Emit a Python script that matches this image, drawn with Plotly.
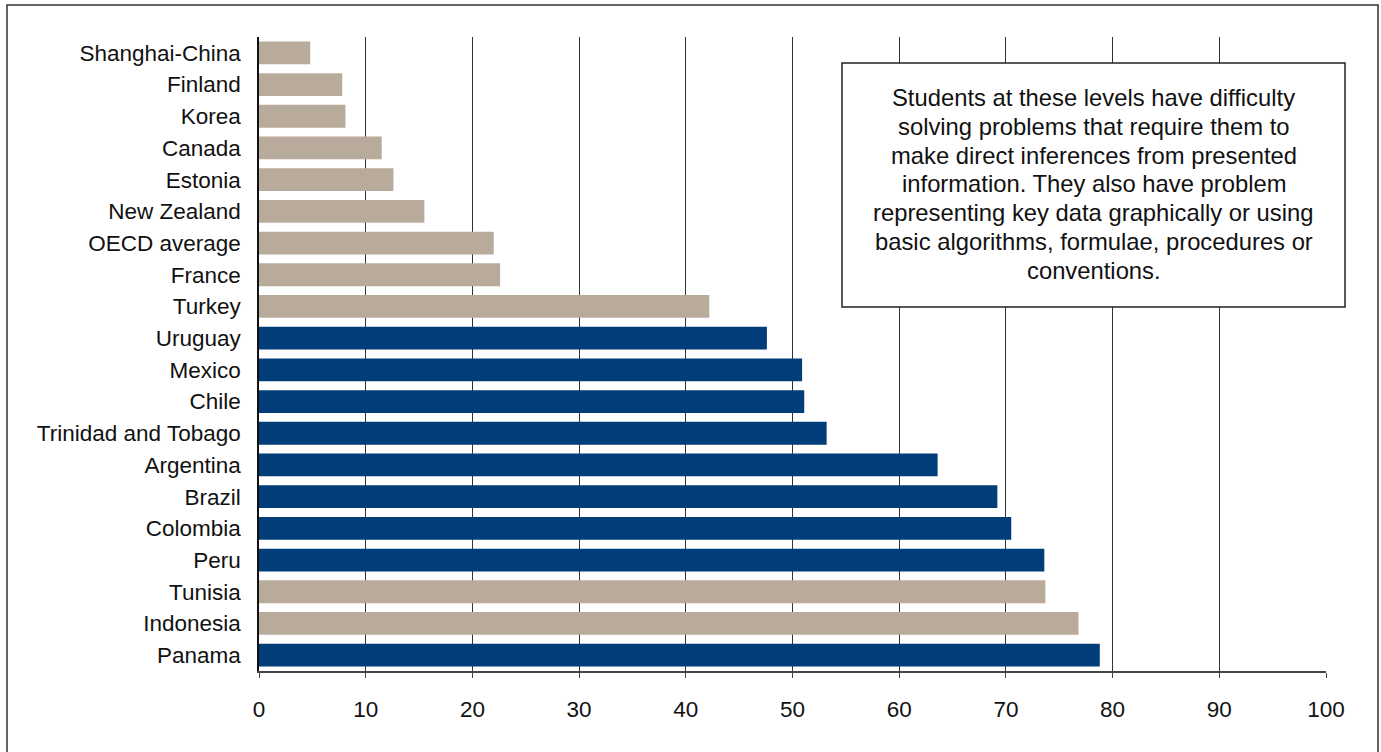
import plotly.graph_objects as go

countries = ["Shanghai-China", "Finland", "Korea", "Canada", "Estonia", "New Zealand",
             "OECD average", "France", "Turkey", "Uruguay", "Mexico", "Chile",
             "Trinidad and Tobago", "Argentina", "Brazil", "Colombia", "Peru",
             "Tunisia", "Indonesia", "Panama"]
values = [4.8, 7.8, 8.1, 11.5, 12.6, 15.5, 22.0, 22.6, 42.2, 47.6, 50.9, 51.1,
          53.2, 63.6, 69.2, 70.5, 73.6, 73.7, 76.8, 78.8]
latin_america = [False, False, False, False, False, False, False, False, False, True,
                 True, True, True, True, True, True, True, False, False, True]
x_ticks = [0, 10, 20, 30, 40, 50, 60, 70, 80, 90, 100]

note_lines = [
    "Students at these levels have difficulty",
    "solving problems that require them to",
    "make direct inferences from presented",
    "information. They also have problem",
    "representing key data graphically or using",
    "basic algorithms, formulae, procedures or",
    "conventions.",
]

NAVY = "#003d79"
TAN = "#b8ab9c"
colors = [NAVY if f else TAN for f in latin_america]

FONT = "Liberation Sans, Arial, sans-serif"

fig = go.Figure(go.Bar(
    x=values, y=countries, orientation="h",
    marker=dict(color=colors, line=dict(width=0)),
    width=0.72,
))

W, H = 1381, 752
L, R, T, B = 259, 55, 37, 81
X0, X1 = L, W - R
Y0, Y1 = T, H - B

def px(xp):
    return (xp - X0) / (X1 - X0)

def py(yp):
    return (Y1 - yp) / (Y1 - Y0)

annotations = []
for i, line in enumerate(note_lines):
    annotations.append(dict(
        xref="paper", yref="paper", x=px(1093.5), y=py(97.5 + 28.8 * i),
        xanchor="center", yanchor="middle", text=line, showarrow=False,
        font=dict(family=FONT, size=23.8, color="#111"),
    ))

fig.update_layout(
    width=W, height=H,
    margin=dict(l=L, r=R, t=T, b=B),
    paper_bgcolor="white", plot_bgcolor="white",
    showlegend=False,
    font=dict(family=FONT, size=22.5, color="#111"),
    xaxis=dict(range=[0, 100], tickvals=x_ticks, ticktext=[str(v) for v in x_ticks],
               showgrid=True, gridcolor="#333", gridwidth=1,
               showline=True, linecolor="#444", linewidth=1.5,
               ticks="outside", ticklen=5, tickcolor="#444", tickwidth=1,
               ticklabelstandoff=12, zeroline=False, fixedrange=True),
    yaxis=dict(autorange="reversed", showgrid=False,
               showline=True, linecolor="#111", linewidth=1.5,
               ticks="", ticklabelstandoff=12, fixedrange=True),
    shapes=[
        dict(type="rect", xref="paper", yref="paper",
             x0=px(7), x1=px(1378), y0=py(770), y1=py(5),
             line=dict(color="#333", width=1.5), layer="above"),
        dict(type="rect", xref="paper", yref="paper",
             x0=px(842), x1=px(1345), y0=py(307), y1=py(63),
             line=dict(color="#222", width=1.5), fillcolor="white", layer="above"),
    ],
    annotations=annotations,
)

fig.write_html("out.html",
               config={"displayModeBar": False},
               post_script="document.body.style.margin='0';document.body.style.overflow='hidden';")
